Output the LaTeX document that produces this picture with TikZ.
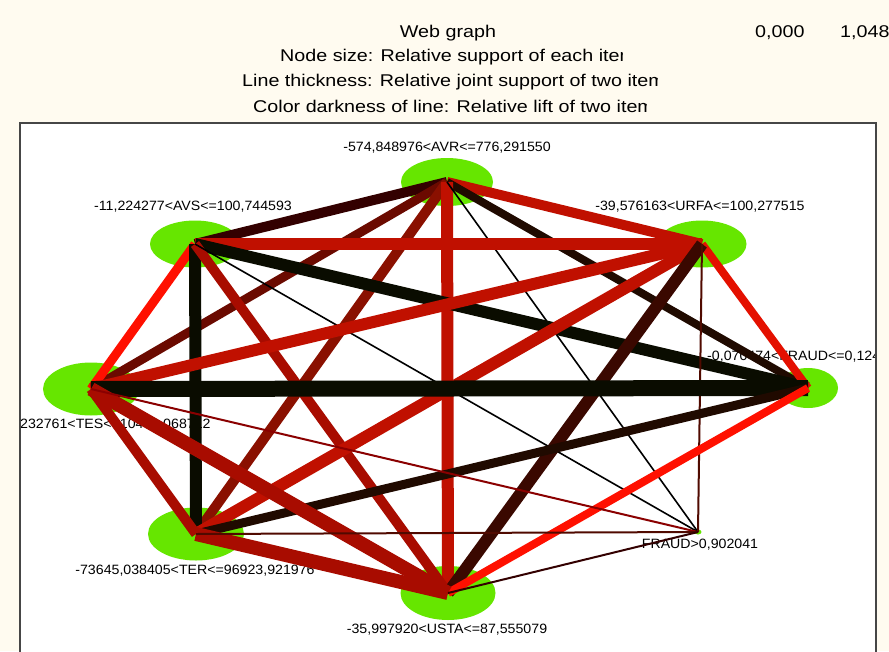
\documentclass[tikz,border=0pt]{standalone}
\usepackage{fontspec}
\setmainfont{Liberation Sans}
\newfontfamily\headfont[FakeStretch=1.16]{Liberation Sans}
\newfontfamily\lblfont[FakeStretch=1.05]{Liberation Sans}
\usepackage{tikz}
\usetikzlibrary{shapes.geometric}
\definecolor{paper}{RGB}{255,251,240}
\definecolor{framegray}{RGB}{70,70,70}
\definecolor{itemgreen}{RGB}{102,230,0}
\definecolor{blackish}{RGB}{10,12,0}
\definecolor{darkbrown}{RGB}{32,10,0}
\definecolor{umber}{RGB}{58,8,0}
\definecolor{maroon}{RGB}{51,0,0}
\definecolor{thinbrown}{RGB}{80,10,0}
\definecolor{darkred}{RGB}{107,10,0}
\definecolor{midred}{RGB}{138,16,0}
\definecolor{thinred}{RGB}{138,0,0}
\definecolor{brickred}{RGB}{168,12,0}
\definecolor{lred}{RGB}{192,16,0}
\definecolor{orangered}{RGB}{228,16,0}
\definecolor{brightred}{RGB}{255,16,0}

\begin{document}
\begin{tikzpicture}[
  x=1pt, y=-1pt,
  item/.style = {
    ellipse,
    fill = itemgreen,
    inner sep = 0pt,
  },
  lbl/.style = {
    inner sep = 0pt,
    font = \lblfont\fontsize{13.5}{15}\selectfont,
  },
  heading/.style = {
    inner sep = 0pt,
    font = \headfont\fontsize{17}{20}\selectfont,
  },
  link/.style = {
    line width = #1pt,
    line cap = butt,
  },
]
  \useasboundingbox (0,0) rectangle (889,651);
  \fill[paper] (0,0) rectangle (889,651);

  % title and scale
  \node[heading] (title) at (448,33) {Web graph};
  \begin{scope}
    \clip (0,44) rectangle (622,70);
    \node[heading,anchor=west] (size) at (280,57) {Node size: Relative support of each item};
  \end{scope}
  \begin{scope}
    \clip (0,70) rectangle (657,94);
    \node[heading,anchor=west] (thick) at (242,82) {Line thickness: Relative joint support of two items};
  \end{scope}
  \begin{scope}
    \clip (0,94) rectangle (646,118);
    \node[heading,anchor=west] (dark) at (253,106) {Color darkness of line: Relative lift of two items};
  \end{scope}
  \node[heading,anchor=west] (lo) at (755,33) {0,000};
  \node[heading,anchor=west] (hi) at (840,33) {1,048};

  \fill[white] (20,123) rectangle (876,680);

  \begin{scope}
    \clip (21,124) rectangle (875,651);

    % items
    \node[item,minimum width=92pt,minimum height=48pt] (AVR) at (447,182) {};
    \node[item,minimum width=90pt,minimum height=47pt] (AVS) at (195,244) {};
    \node[item,minimum width=89pt,minimum height=47pt] (URFA) at (702,244) {};
    \node[item,minimum width=60pt,minimum height=40pt] (FR1) at (808,388) {};
    \node[item,minimum width=96pt,minimum height=53pt] (TES) at (91,389) {};
    \node[item,minimum width=96pt,minimum height=53pt] (TER) at (196,534) {};
    \node[item,minimum width=95pt,minimum height=54pt] (USTA) at (448,593) {};
    \node[item,minimum width=7pt,minimum height=5pt] (FR2) at (698,532) {};

    % labels
    \node[lbl] (AVR-l) at (447,148) {-574,848976<AVR<=776,291550};
    \node[lbl] (AVS-l) at (193,207) {-11,224277<AVS<=100,744593};
    \node[lbl] (URFA-l) at (700,207) {-39,576163<URFA<=100,277515};
    \node[lbl,anchor=west] (FR1-l) at (707,357) {-0,070474<FRAUD<=0,124};
    \node[lbl,anchor=west] (TES-l) at (20,425) {232761<TES<=10400,068712};
    \node[lbl] (TER-l) at (195,571) {-73645,038405<TER<=96923,921976};
    \node[lbl] (USTA-l) at (447,630) {-35,997920<USTA<=87,555079};
    \node[lbl] (FR2-l) at (700,545) {FRAUD>0,902041};

    % links
    \draw[link=10,maroon] (AVR.center) -- (AVS.center);
    \draw[link=10,lred] (AVR.center) -- (URFA.center);
    \draw[link=8,darkbrown] (AVR.center) -- (FR1.center);
    \draw[link=9,darkred] (AVR.center) -- (TES.center);
    \draw[link=10,midred] (AVR.center) -- (TER.center);
    \draw[link=12,lred] (AVR.center) -- (USTA.center);
    \draw[link=1.6,black] (AVR.center) -- (FR2.center);

    \draw[link=12,lred] (AVS.center) -- (URFA.center);
    \draw[link=12,blackish] (AVS.center) -- (FR1.center);
    \draw[link=9,brightred] (AVS.center) -- (TES.center);
    \draw[link=12,blackish] (AVS.center) -- (TER.center);
    \draw[link=10,brickred] (AVS.center) -- (USTA.center);
    \draw[link=1.6,black] (AVS.center) -- (FR2.center);

    \draw[link=8,orangered] (URFA.center) -- (FR1.center);
    \draw[link=12,lred] (URFA.center) -- (TES.center);
    \draw[link=12,lred] (URFA.center) -- (TER.center);
    \draw[link=12,umber] (URFA.center) -- (USTA.center);
    \draw[link=2,thinbrown] (URFA.center) -- (FR2.center);

    \draw[link=16,blackish] (FR1.center) -- (TES.center);
    \draw[link=9,darkbrown] (FR1.center) -- (TER.center);
    \draw[link=8,brightred] (FR1.center) -- (USTA.center);

    \draw[link=10,brickred] (TES.center) -- (TER.center);
    \draw[link=14,brickred] (TES.center) -- (USTA.center);
    \draw[link=2,thinred] (TES.center) -- (FR2.center);

    \draw[link=14,brickred] (TER.center) -- (USTA.center);
    \draw[link=2,thinbrown] (TER.center) -- (FR2.center);

    \draw[link=2,maroon] (USTA.center) -- (FR2.center);
  \end{scope}

  \draw[framegray,line width=2pt] (20,123) rectangle (876,680);
\end{tikzpicture}
\end{document}
